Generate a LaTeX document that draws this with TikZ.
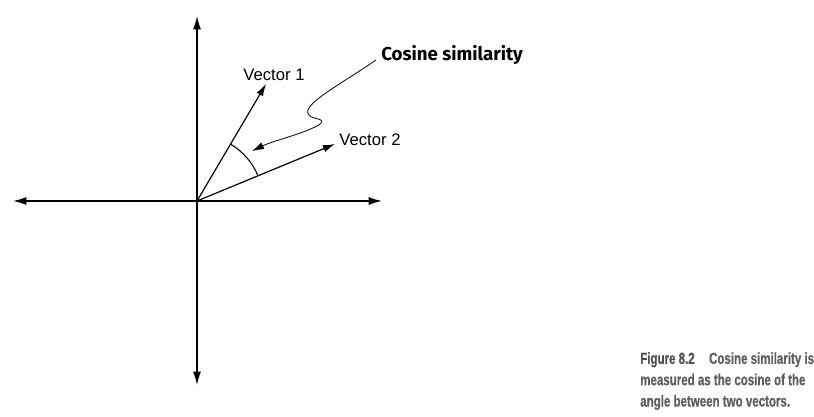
\documentclass[tikz,border=0pt]{standalone}
\usepackage{fontspec}
\setmainfont{Liberation Sans}
\newfontfamily\labfont{Fira Sans}
\newfontfamily\capfont[FakeStretch=0.72,FakeBold=0.6]{Liberation Sans}
\usetikzlibrary{arrows.meta}
\definecolor{capgray}{HTML}{5E5E5E}
\definecolor{capdark}{HTML}{505050}
\begin{document}
\begin{tikzpicture}[x=0.75pt,y=-0.75pt,
  axis/.style={line width=1.1pt,{Latex[length=10pt,width=6pt]}-{Latex[length=10pt,width=6pt]}},
  vec/.style={line width=0.9pt,-{Latex[length=9pt,width=5.5pt]}},
  lab/.style={font=\fontsize{12.5}{14}\selectfont,inner sep=0pt},
  captext/.style={font=\capfont\bfseries\fontsize{12}{16}\selectfont,text=capgray,align=left,anchor=north west,inner sep=0pt}]
\useasboundingbox (0,0) rectangle (814,417);
\coordinate (O) at (197,201);
\coordinate (L) at (13,201);
\coordinate (R) at (382,201);
\coordinate (T) at (197,16);
\coordinate (B) at (197,385);
\coordinate (V1) at (266,84);
\coordinate (V2) at (335,144);
\draw[axis] (L) -- (R);
\draw[axis] (B) -- (T);
\draw[vec] (O) -- (V1);
\draw[vec] (O) -- (V2);
\draw[line width=0.8pt] (O) ++(59.3:66*0.75pt) arc[start angle=59.3,end angle=22.6,radius=66*0.75pt];
\node[lab] (v1l) at (274,75) {Vector 1};
\node[lab] (v2l) at (370,140) {Vector 2};
\node[font=\labfont\bfseries\fontsize{14}{16}\selectfont,anchor=west,inner sep=0pt] (cs) at (381,55) {Cosine similarity};
\coordinate (cstart) at (376,60);
\coordinate (ctip) at (252,151);
\draw[line width=0.6pt,-{Latex[length=9pt,width=5.5pt]}] (cstart) .. controls (340,85) and (300,105) .. (309,115) .. controls (313,120) and (328,118) .. (319,125) .. controls (300,135) and (275,140) .. (ctip);
\node[captext] (caption) at (640,352) {{\color{capdark}Figure 8.2}\hspace{0.9em}Cosine similarity is\\measured as the cosine of the\\angle between two vectors.};
\end{tikzpicture}
\end{document}
